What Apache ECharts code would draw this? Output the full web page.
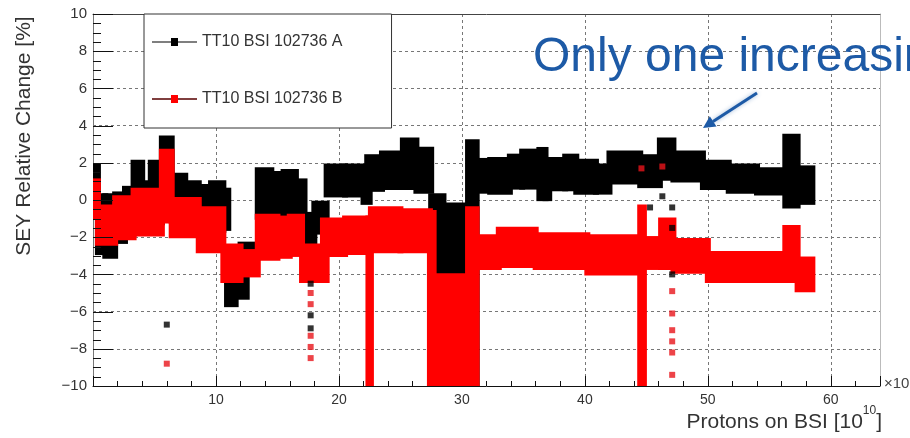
<!DOCTYPE html>
<html>
<head>
<meta charset="utf-8">
<script src="https://cdn.jsdelivr.net/npm/echarts@6/dist/echarts.min.js"></script>
<style>
  html, body { margin: 0; padding: 0; background: #fff; }
  #chart { width: 910px; height: 438px; }
</style>
</head>
<body>
<div id="chart"></div>
<script>
const seriesNames = ['TT10 BSI 102736 A', 'TT10 BSI 102736 B'];

// dense runs of markers: [xFrom, xTo, low, high]
const bandA = [
  [0, 0.4, -0.9, 1.8], [0.4, 1.0, -2.8, 0.2], [1.0, 1.8, -3.0, 0.2], [1.8, 2.6, -2.2, 0.3],
  [2.6, 3.3, -1.8, 0.6], [3.3, 4.0, -1.6, 2.0], [4.0, 4.7, -1.5, 0.9], [4.7, 5.6, -1.2, 2.0],
  [5.6, 6.4, -1.0, 3.3], [6.4, 7.5, -1.1, 1.3], [7.5, 8.6, -1.3, 0.9], [8.6, 9.6, -1.4, 0.7],
  [9.6, 10.6, -1.6, 0.9], [10.6, 11.0, -1.5, 0.5], [10.9, 11.6, -5.6, -4.0], [11.6, 12.5, -5.2, -4.0],
  [12.0, 14.0, -2.9, -2.4], [13.4, 14.5, -0.9, 1.6], [14.5, 15.5, -1.3, 1.4], [15.5, 16.5, -1.5, 1.5],
  [16.5, 17.2, -1.2, 1.0], [17.3, 18.0, -2.6, -0.8], [18.0, 19.0, -1.7, -0.2], [19.0, 20.5, 0.3, 1.8],
  [20.5, 22.3, 0.3, 1.8], [22.0, 22.5, -0.1, 0.6], [22.3, 23.5, 0.6, 2.3], [23.5, 25.2, 0.7, 2.5],
  [25.2, 26.3, 0.7, 3.2], [26.3, 27.5, 0.5, 2.7], [27.5, 28.5, -10, 0.2], [28.5, 30.5, -10, -0.3],
  [30.5, 31.2, -10, 3.1], [31.2, 32.3, 0.5, 2.1], [32.3, 33.9, 0.45, 2.15], [33.9, 34.9, 0.72, 2.33],
  [34.9, 36.3, 0.72, 2.6], [36.3, 36.8, 0.1, 2.69], [36.8, 37.1, 0.1, 2.15], [37.1, 38.4, 0.63, 2.15],
  [38.4, 39.3, 0.63, 2.33], [39.3, 40.9, 0.45, 2.06], [40.9, 42.0, 0.45, 1.8], [42.0, 44.5, 1.0, 2.5],
  [44.5, 46.1, 0.8, 2.3], [46.1, 47.2, 1.2, 3.2], [47.2, 49.6, 1.1, 2.5], [49.6, 51.7, 0.7, 2.0],
  [51.7, 54.0, 0.5, 1.8], [54.0, 56.3, 0.4, 1.6], [56.3, 57.3, -0.3, 3.4], [57.3, 58.5, -0.1, 1.7]
];
const bandB = [
  [0, 0.4, -0.9, 1.0], [0.4, 1.8, -2.3, -0.4], [1.8, 3.3, -2.0, 0.1], [3.3, 5.6, -1.8, 0.5],
  [5.6, 6.4, -1.1, 2.6], [6.4, 8.6, -1.9, 0.0], [8.6, 10.6, -2.7, -0.5], [10.6, 12.0, -4.3, -2.5],
  [12.0, 13.4, -4.0, -2.8], [13.4, 15.0, -3.1, -0.9], [15.0, 16.0, -3.0, -1.0], [16.0, 17.0, -2.9, -0.9],
  [17.0, 19.0, -4.3, -2.5], [18.7, 20.5, -2.9, -1.1], [20.5, 22.4, -2.8, -1.0], [22.4, 22.6, -10, -1.0],
  [22.6, 25.0, -2.7, -0.5], [25.0, 27.4, -2.7, -0.6], [27.4, 27.7, -10, -0.7], [27.7, 30.5, -10, -4.1],
  [30.5, 31.2, -10, -0.5], [31.2, 33.0, -3.6, -2.0], [33.0, 36.0, -3.5, -1.6], [36.0, 40.2, -3.6, -1.9],
  [40.2, 44.5, -3.9, -2.0], [44.5, 44.8, -10, -0.4], [44.8, 46.2, -3.6, -2.1], [46.2, 47.2, -3.6, -1.1],
  [47.2, 50.0, -3.8, -2.2], [50.0, 56.3, -4.3, -2.9], [56.3, 57.3, -4.3, -1.5], [57.3, 58.5, -4.8, -3.2]
];
// isolated markers
const pointsA = [
  [6.0, -6.7], [17.7, -4.5], [17.7, -6.2], [17.7, -6.9],
  [45.3, -0.4], [46.3, 0.2], [47.1, -0.4], [47.1, -1.5], [47.1, -4.0]
];
const pointsB = [
  [6.0, -8.8], [17.7, -5.0], [17.7, -5.6], [17.7, -7.3], [17.7, -7.9], [17.7, -8.5],
  [44.6, 1.7], [46.3, 1.8], [47.1, -4.9], [47.1, -6.1], [47.1, -7.0], [47.1, -7.6],
  [47.1, -8.2], [47.1, -9.4]
];
// tick positions on the value axis
const yMajorTicks = [-10, -8, -6, -4, -2, 0, 2, 4, 6, 8, 10];
const yMinorTicks = [
  -9.5, -9, -8.5, -7.5, -7, -6.5, -5.5, -5, -4.5, -3.5, -3, -2.5, -1.5, -1, -0.5,
  0.5, 1, 1.5, 2.5, 3, 3.5, 4.5, 5, 5.5, 6.5, 7, 7.5, 8.5, 9, 9.5
];

const font = "'Liberation Sans', Arial, sans-serif";
const gridLeft = 93, gridRight = 30, gridTop = 14, gridBottom = 52;
const plotH = 438 - gridTop - gridBottom;
const chart = echarts.init(document.getElementById('chart'));

function renderBand(params, api) {
  const tl = api.coord([api.value(0), api.value(3)]);
  const br = api.coord([api.value(1), api.value(2)]);
  const pad = 3; // half a marker
  return {
    type: 'rect',
    shape: { x: tl[0] - pad, y: tl[1] - pad, width: br[0] - tl[0] + 2 * pad, height: br[1] - tl[1] + 2 * pad },
    style: { fill: api.visual('color') }
  };
}

const legendIcon = 'path://M0,3.5H19V0H26V3.5H45V4.5H26V8H19V4.5H0Z';
const noParts = { axisLabel: { show: false }, splitLine: { show: false } };

// extra x axes that only carry tick marks pointing up into the frame
function xTickAxis(interval, length) {
  return {
    type: 'value', min: 0, max: 64, interval, position: 'top', offset: -plotH,
    axisLine: { show: false, onZero: false },
    axisTick: { show: true, length, lineStyle: { color: '#111' } },
    ...noParts
  };
}

chart.setOption({
  animation: false,
  backgroundColor: '#fff',
  textStyle: { fontFamily: font },
  grid: { left: gridLeft, right: gridRight, top: gridTop, bottom: gridBottom },
  legend: {
    left: 144, top: 14,
    orient: 'vertical',
    padding: [20, 49, 21, 8],
    itemGap: 41,
    itemWidth: 45, itemHeight: 8,
    borderColor: '#333', borderWidth: 1,
    backgroundColor: '#fff',
    textStyle: { fontSize: 16, color: '#333', fontFamily: font },
    data: [
      { name: seriesNames[0], icon: legendIcon },
      { name: seriesNames[1], icon: legendIcon }
    ]
  },
  xAxis: [
    {
      type: 'value', min: 0, max: 64, interval: 10,
      axisLine: { onZero: false, lineStyle: { color: '#111' } },
      axisTick: { show: false },
      axisLabel: { fontSize: 14, color: '#333', margin: 7,
        formatter: v => (v > 0 && v % 10 === 0 ? String(v) : '') },
      splitLine: { show: true, lineStyle: { type: [3, 3], color: '#777' } }
    },
    xTickAxis(2, 5),
    xTickAxis(10, 10),
    {
      type: 'value', min: 0, max: 64, position: 'top',
      axisLine: { onZero: false, lineStyle: { color: '#444' } },
      axisTick: { show: false }, ...noParts
    }
  ],
  yAxis: [
    {
      type: 'value', min: -10, max: 10, interval: 2,
      axisLine: { show: true, onZero: false, lineStyle: { color: '#777' } },
      axisTick: { show: false },
      axisLabel: {
        fontSize: 15, color: '#333', margin: 6,
        formatter: v => String(v).replace('-', '\u2212')
      },
      splitLine: { show: true, lineStyle: { type: [3, 3], color: '#777' } }
    },
    {
      type: 'value', min: -10, max: 10, position: 'right',
      axisLine: { show: true, onZero: false, lineStyle: { color: '#bbb' } },
      axisTick: { show: false }, ...noParts
    }
  ],
  series: [
    {
      name: seriesNames[0], type: 'custom', renderItem: renderBand, clip: true,
      encode: { x: [0, 1], y: [2, 3] },
      itemStyle: { color: '#000' }, z: 2, data: bandA
    },
    {
      name: seriesNames[0], type: 'scatter', symbol: 'rect', symbolSize: 6,
      itemStyle: { color: '#000' }, z: 4, data: pointsA
    },
    {
      name: seriesNames[1], type: 'custom', renderItem: renderBand, clip: true,
      encode: { x: [0, 1], y: [2, 3] },
      itemStyle: { color: '#f00' }, z: 3, data: bandB
    },
    {
      name: seriesNames[1], type: 'scatter', symbol: 'rect', symbolSize: 6,
      itemStyle: { color: '#e8141a' }, z: 3, data: pointsB
    }
  ]
});

// y ticks pointing right from the left edge, placed through the axis scale
function yTick(v, len) {
  const p = chart.convertToPixel({ xAxisIndex: 0, yAxisIndex: 0 }, [0, v]);
  const y = Math.round(p[1]) + 0.5;
  return { type: 'line', z: 40, shape: { x1: p[0], y1: y, x2: p[0] + len, y2: y }, style: { stroke: '#111', lineWidth: 1 } };
}
const tickLines = yMinorTicks.map(v => yTick(v, 8)).concat(yMajorTicks.map(v => yTick(v, 20)));

chart.setOption({
  graphic: [
    {
      type: 'text', x: 533, y: 58, z: 50,
      style: { text: 'Only one increasing', font: '48px ' + font, fill: '#1d5aa6', verticalAlign: 'middle' }
    },
    {
      type: 'line', z: 50,
      shape: { x1: 757, y1: 93, x2: 713, y2: 121.5 },
      style: { stroke: '#1d5aa6', lineWidth: 3, shadowBlur: 4, shadowColor: 'rgba(29,90,166,0.4)' }
    },
    {
      type: 'polygon', z: 50,
      shape: { points: [[703, 128], [716.5, 126.5], [709.8, 116.2]] },
      style: { fill: '#1d5aa6' }
    },
    {
      type: 'text', x: 24, y: 136, rotation: Math.PI / 2, z: 50,
      style: { text: 'SEY Relative Change [%]', font: '21px ' + font, fill: '#333', align: 'center', verticalAlign: 'middle' }
    },
    {
      type: 'text', x: 882, y: 419, z: 50,
      style: {
        text: '{a|Protons on BSI [10}{s|10}{a|]}',
        align: 'right', verticalAlign: 'middle',
        rich: {
          a: { fontSize: 21, fontFamily: font, fill: '#333', lineHeight: 28, verticalAlign: 'bottom' },
          s: { fontSize: 12, fontFamily: font, fill: '#333', lineHeight: 28, verticalAlign: 'top' }
        }
      }
    },
    {
      type: 'text', x: 884, y: 384, z: 50,
      style: { text: '×10', font: '15px ' + font, fill: '#444', verticalAlign: 'middle' }
    },
    // legend line of the red entry is drawn black in the original
    { type: 'line', z: 60, shape: { x1: 152, y1: 99, x2: 171, y2: 99 }, style: { stroke: '#000', lineWidth: 1 } },
    { type: 'line', z: 60, shape: { x1: 178, y1: 99, x2: 197, y2: 99 }, style: { stroke: '#000', lineWidth: 1 } }
  ].concat(tickLines)
});
</script>
</body>
</html>
